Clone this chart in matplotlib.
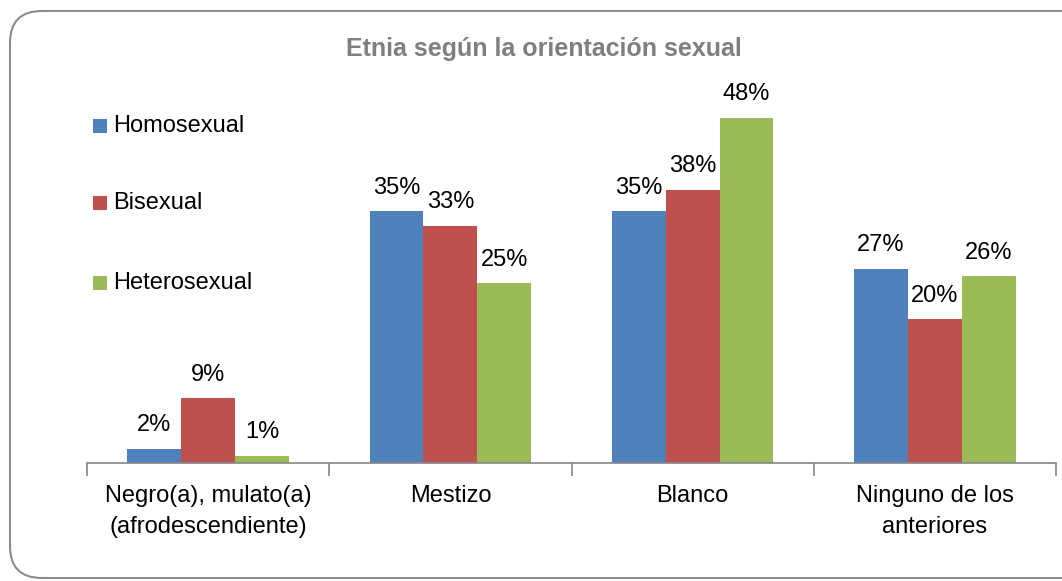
import matplotlib.pyplot as plt
from matplotlib.patches import FancyBboxPatch
import numpy as np

categorias = ['Negro(a), mulato(a)\n(afrodescendiente)', 'Mestizo', 'Blanco',
              'Ninguno de los\nanteriores']
homosexual = [2, 35, 35, 27]
bisexual = [9, 33, 38, 20]
heterosexual = [1, 25, 48, 26]
series = ['Homosexual', 'Bisexual', 'Heterosexual']
colores = ['#4F81BD', '#C0504D', '#9BBB59']

plt.rcParams['font.family'] = ['Liberation Sans', 'DejaVu Sans']
fs = 17

fig = plt.figure(figsize=(10.62, 5.81), dpi=100)

# marco redondeado como en Excel (el borde derecho queda fuera de la imagen)
marco = FancyBboxPatch((10 / 1062, 3 / 581), 1100 / 1062, 567 / 581,
                       boxstyle='round,pad=0,rounding_size=0.03',
                       transform=fig.transFigure, facecolor='none', zorder=-1,
                       edgecolor='#8c8c8c', linewidth=1.5, mutation_aspect=1062 / 581)
fig.patches.append(marco)

ax = fig.add_axes([87 / 1062, (581 - 463) / 581, 969 / 1062, 359.5 / 581])
ax.set_facecolor('none')

x = np.arange(len(categorias))
w = 0.222
valores = [homosexual, bisexual, heterosexual]
for i, (nombre, vals, col) in enumerate(zip(series, valores, colores)):
    barras = ax.bar(x + (i - 1) * w, vals, w, color=col, label=nombre)
    ax.bar_label(barras, labels=[f'{v}%' for v in vals], padding=9, fontsize=fs)

ax.set_xlim(-0.5, 3.5)
ax.set_ylim(0, 50)
for s in ['top', 'right', 'left']:
    ax.spines[s].set_visible(False)
ax.spines['bottom'].set_color('#868686')
ax.spines['bottom'].set_linewidth(1.2)
ax.set_yticks([])
ax.set_xticks(x)
ax.set_xticklabels(categorias, fontsize=fs, linespacing=1.5)
ax.tick_params(axis='x', which='major', length=0, pad=16)
ax.set_xticks(np.arange(-0.5, 4, 1), minor=True)
ax.tick_params(axis='x', which='minor', length=9, color='#868686', width=1.2)

fig.text(544 / 1062, 1 - 49 / 581, 'Etnia según la orientación sexual',
         ha='center', va='center', fontsize=18, fontweight='bold', color='#7f7f7f')

# leyenda
ys = [126, 203, 283]
for nombre, col, yy in zip(series, colores, ys):
    fig.patches.append(plt.Rectangle((93 / 1062, 1 - (yy + 7) / 581), 14 / 1062, 14 / 581,
                                     transform=fig.transFigure, facecolor=col))
    fig.text(113 / 1062, 1 - yy / 581, nombre, ha='left', va='center', fontsize=fs)

fig.savefig('out.png', dpi=100)
